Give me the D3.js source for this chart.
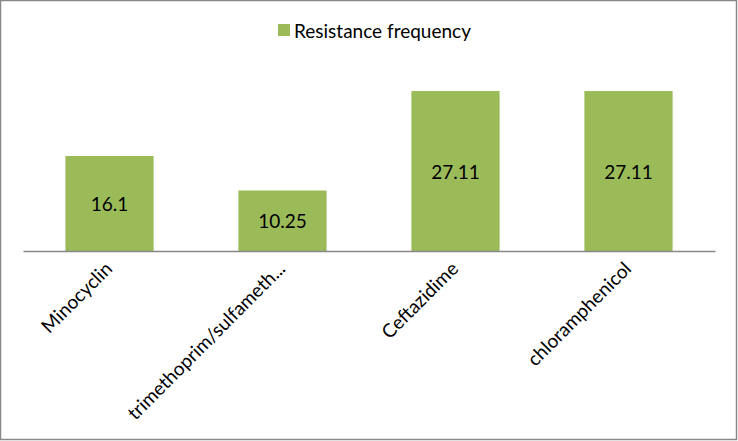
<!DOCTYPE html>
<html><head><meta charset="utf-8">
<script src="https://cdn.jsdelivr.net/npm/d3@7"></script>
<style>body{margin:0;background:#fff}svg{display:block}text{font-family:Lato,"Open Sans",sans-serif;fill:#000}</style>
</head><body>
<svg id="c" width="738" height="441"></svg>
<script>
const categories = ["Minocyclin","trimethoprim/sulfameth...","Ceftazidime","chloramphenicol"];
const values = [16.1, 10.25, 27.11, 27.11];
const seriesName = "Resistance frequency";

const svg = d3.select("#c");
const W = 738, H = 441;
svg.append("rect").attr("x",0.5).attr("y",0.5).attr("width",W-2).attr("height",H-2)
  .attr("fill","#fff").attr("stroke","#888").attr("stroke-width",1.5);

const left = 23, right = 715, base = 251;
const x = d3.scaleBand().domain(categories).range([left,right]).paddingInner(0.49).paddingOuter(0.245);
const y = d3.scaleLinear().domain([0,30]).range([base, base - 30*5.9]);
const color = "#9BBB59";

svg.selectAll("rect.bar").data(values).enter().append("rect").attr("class","bar")
  .attr("x",(d,i)=>x(categories[i])).attr("width",x.bandwidth())
  .attr("y",d=>y(d)).attr("height",d=>y(0)-y(d)).attr("fill",color);

svg.selectAll("text.val").data(values).enter().append("text").attr("class","val")
  .attr("x",(d,i)=>x(categories[i])+x.bandwidth()/2).attr("y",d=>(y(d)+y(0))/2)
  .attr("text-anchor","middle").attr("dominant-baseline","central").attr("font-size",19)
  .text(d=>d);

const ax = svg.append("g").attr("transform",`translate(0,${base})`)
  .call(d3.axisBottom(x).tickSize(0).tickFormat(d=>d));
ax.select(".domain").attr("stroke","#888").attr("stroke-width",1.5);
ax.selectAll(".tick text").attr("font-family","Lato,'Open Sans',sans-serif").attr("font-size",19)
  .attr("text-anchor","end").attr("dy",null).attr("y",null)
  .attr("transform","translate(4,19) rotate(-45)");

const lg = svg.append("g");
lg.append("rect").attr("x",278).attr("y",24).attr("width",12).attr("height",12).attr("fill",color);
lg.append("text").attr("x",294).attr("y",30).attr("dominant-baseline","central").attr("font-size",19).text(seriesName);
</script>
</body></html>
